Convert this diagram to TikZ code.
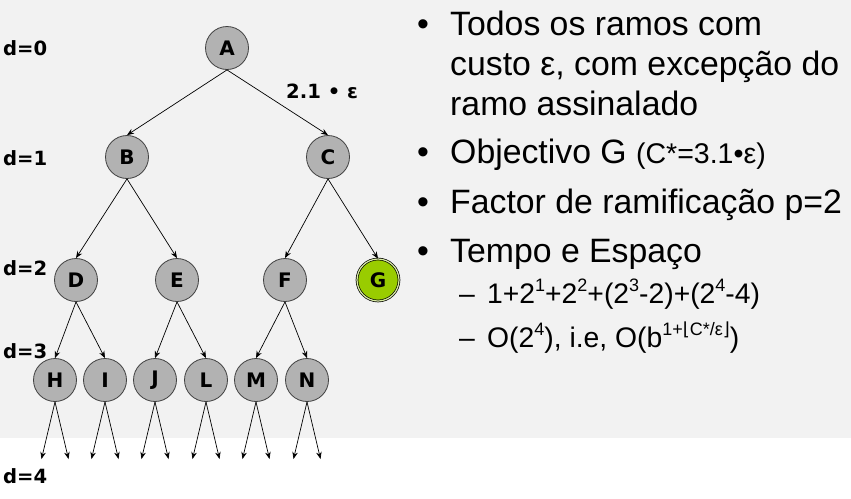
\documentclass[tikz,border=0pt]{standalone}
\usepackage{fontspec}
\setmainfont{Liberation Sans}
\newfontfamily\djv{DejaVu Sans}
\usetikzlibrary{arrows.meta}
\definecolor{bgray}{HTML}{F2F2F2}
\definecolor{nodegray}{HTML}{B2B2B2}
\definecolor{goalgreen}{HTML}{99CC00}
\newcommand{\supx}[1]{\raisebox{0.42em}{\fontsize{18}{18}\selectfont #1}}
\begin{document}
\begin{tikzpicture}[x=1pt,y=-1pt,
  tnode/.style={circle,draw=black!75,line width=0.8pt,fill=nodegray,minimum size=43pt,inner sep=0pt,font=\djv\bfseries\fontsize{20}{20}\selectfont},
  goal/.style={circle,draw=black,double=goalgreen!35!white,double distance=1.2pt,line width=0.7pt,fill=goalgreen,minimum size=42pt,inner sep=0pt,font=\djv\bfseries\fontsize{20}{20}\selectfont},
  edge/.style={-{Stealth[length=7pt,width=5.5pt]},line width=0.7pt},
  dlab/.style={anchor=west,inner sep=0pt,font=\djv\bfseries\fontsize{19.6}{20}\selectfont},
  btxt/.style={anchor=base west,inner sep=0pt,font=\fontsize{33.8}{40}\selectfont},
  stxt/.style={anchor=base west,inner sep=0pt,font=\fontsize{28.3}{34}\selectfont}]
\useasboundingbox (0,0) rectangle (851,498);
\fill[bgray] (0,0) rectangle (851,438);
% nodes
\node[tnode] (A) at (227,48) {A};
\node[tnode] (B) at (127,157) {B};
\node[tnode] (C) at (328,157) {C};
\node[tnode] (D) at (76,280) {D};
\node[tnode] (E) at (177,280) {E};
\node[tnode] (F) at (285,280) {F};
\node[goal] (G) at (378,280) {G};
\node[tnode] (H) at (55,380) {H};
\node[tnode] (I) at (105,380) {I};
\node[tnode] (J) at (155,380) {J};
\node[tnode] (L) at (206,380) {L};
\node[tnode] (M) at (256,380) {M};
\node[tnode] (N) at (307,380) {N};
% edges
\draw[edge] (A.south) -- (B.north);
\draw[edge] (A.south) -- (C.north);
\draw[edge] (B.south) -- (D.north);
\draw[edge] (B.south) -- (E.north);
\draw[edge] (C.south) -- (F.north);
\draw[edge] (C.south) -- (G.north);
\draw[edge] (D.south) -- (H.north);
\draw[edge] (D.south) -- (I.north);
\draw[edge] (E.south) -- (J.north);
\draw[edge] (E.south) -- (L.north);
\draw[edge] (F.south) -- (M.north);
\draw[edge] (F.south) -- (N.north);
% leaf arrows
\foreach \n/\x in {H/55,I/105,J/155,L/206,M/256,N/307}{
  \coordinate (\n l) at (\x-13.5,459);
  \coordinate (\n r) at (\x+13.5,459);
  \draw[edge] (\n.south) -- (\n l);
  \draw[edge] (\n.south) -- (\n r);
}
% depth labels
\node[dlab] (d0) at (3,48) {d=0};
\node[dlab] (d1) at (3,158) {d=1};
\node[dlab] (d2) at (3,268) {d=2};
\node[dlab] (d3) at (3,351) {d=3};
\node[dlab] (d4) at (3,476) {d=4};
\node[dlab] (cost) at (286,91) {2.1 • ε};
% right text
\node[btxt] (b1) at (417,35) {•};
\node[btxt] (t1) at (450,35) {Todos os ramos com};
\node[btxt] (t2) at (450,75) {custo ε, com excepção do};
\node[btxt] (t3) at (450,115) {ramo assinalado};
\node[btxt] (b2) at (417,163) {•};
\node[btxt] (t4) at (450,163) {Objectivo G {\fontsize{28.5}{30}\selectfont(C*=3.1•ε)}};
\node[btxt] (b3) at (417,213) {•};
\node[btxt] (t5) at (450,213) {Factor de ramificação p=2};
\node[btxt] (b4) at (417,262) {•};
\node[btxt] (t6) at (450,262) {Tempo e Espaço};
\node[stxt] (s1d) at (459,303) {–};
\node[stxt] (s1) at (487,303) {1+2\supx{1}+2\supx{2}+(2\supx{3}-2)+(2\supx{4}-4)};
\node[stxt] (s2d) at (459,347) {–};
\node[stxt] (s2) at (487,347) {O(2\supx{4}), i.e, O(b\supx{1+{\djv⌊}C*/ε{\djv⌋}})};
\end{tikzpicture}
\end{document}
